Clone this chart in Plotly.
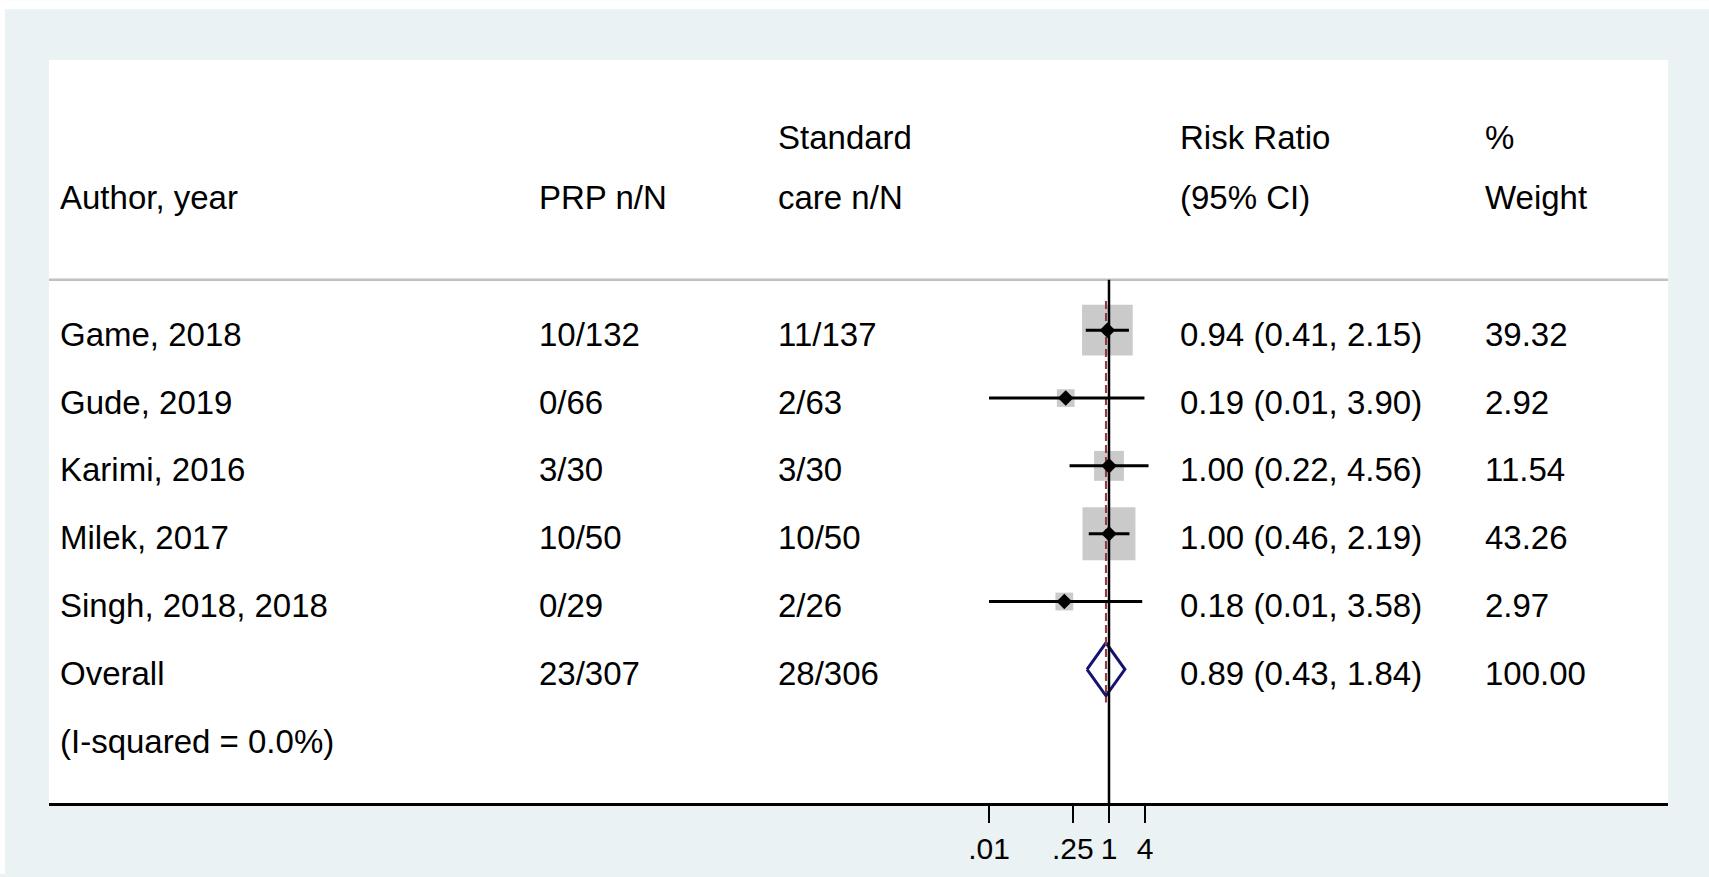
import plotly.graph_objects as go

# ---- study data -------------------------------------------------------
authors = ["Game, 2018", "Gude, 2019", "Karimi, 2016", "Milek, 2017", "Singh, 2018, 2018"]
prp = ["10/132", "0/66", "3/30", "10/50", "0/29"]
std_care = ["11/137", "2/63", "3/30", "10/50", "2/26"]
rr = [0.94, 0.19, 1.00, 1.00, 0.18]
ci_low = [0.41, 0.01, 0.22, 0.46, 0.01]
ci_high = [2.15, 3.90, 4.56, 2.19, 3.58]
weight = [39.32, 2.92, 11.54, 43.26, 2.97]

overall_label = "Overall"
overall_prp = "23/307"
overall_std = "28/306"
overall_rr = 0.89
overall_low = 0.43
overall_high = 1.84
overall_weight = 100.00
heterogeneity = "(I-squared = 0.0%)"

header_top = ["", "", "Standard", "Risk Ratio", "%"]
header_bottom = ["Author, year", "PRP n/N", "care n/N", "(95% CI)", "Weight"]
tick_vals = [0.01, 0.25, 1, 4]
tick_text = [".01", ".25", "1", "4"]

# ---- geometry ---------------------------------------------------------
W, H = 1709, 877
ML, MR, MT, MB = 49, 41, 60, 71
PW = W - ML - MR
PH = H - MT - MB
ROW0_PX, ROW_STEP = 331.3, 68.1      # pixel centre of first study row, row spacing
NULL_PX, DECADE_PX = 1109, 60.0       # pixel of RR=1, pixels per log10 unit

x_range = [(ML - NULL_PX) / DECADE_PX, (W - MR - NULL_PX) / DECADE_PX]
y_range = [(H - MB - ROW0_PX) / ROW_STEP, (MT - ROW0_PX) / ROW_STEP]


def px_x(px):
    return (px - ML) / PW


def px_y(py):
    return (H - MB - py) / PH


col_x = [58, 537, 776, 1178, 1483]
FONT = "Liberation Sans, Arial, sans-serif"
TXT = 33
BOX_GREY = "#b4b4b4"
NAVY = "#14146e"
MAROON = "#93363e"

n = len(authors)
rows = list(range(n))
overall_row = n
het_row = n + 1
header_line_row = (280.7 - ROW0_PX) / ROW_STEP

fig = go.Figure()

# weight boxes
fig.add_trace(go.Scatter(
    x=rr, y=rows, mode="markers",
    marker=dict(symbol="square", color=BOX_GREY,
                size=[7.24 * w ** 0.5 + 5.3 for w in weight], line=dict(width=0)),
    hoverinfo="skip"))

# overall diamond
fig.add_trace(go.Scatter(
    x=[overall_low, overall_rr, overall_high, overall_rr, overall_low],
    y=[overall_row, overall_row - 0.39, overall_row, overall_row + 0.39, overall_row],
    mode="lines", fill="toself", fillcolor="white",
    line=dict(color=NAVY, width=3), hoverinfo="skip"))

# line of no effect
fig.add_trace(go.Scatter(
    x=[1, 1], y=[header_line_row, y_range[0]], mode="lines",
    line=dict(color="black", width=2.5), hoverinfo="skip"))

# overall effect line
fig.add_trace(go.Scatter(
    x=[overall_rr, overall_rr], y=[-0.43, overall_row + 0.49], mode="lines",
    line=dict(color=MAROON, width=2, dash="8px,4px"), hoverinfo="skip"))

# confidence intervals
ci_x, ci_y = [], []
for lo, hi, r in zip(ci_low, ci_high, rows):
    ci_x += [lo, hi, None]
    ci_y += [r, r, None]
fig.add_trace(go.Scatter(
    x=ci_x, y=ci_y, mode="lines",
    line=dict(color="black", width=3), hoverinfo="skip"))

# point estimates
fig.add_trace(go.Scatter(
    x=rr, y=rows, mode="markers",
    marker=dict(symbol="diamond", color="black", size=12, line=dict(width=0)),
    hoverinfo="skip"))

# ---- text columns -----------------------------------------------------
annotations = []


def put(text, col, row, size=TXT):
    annotations.append(dict(
        text=text, x=px_x(col_x[col]), xref="paper", xanchor="left",
        y=row, yref="y", yanchor="middle", yshift=-4,
        showarrow=False, font=dict(family=FONT, size=size, color="black")))


for c, t in enumerate(header_top):
    if t:
        put(t, c, -2.9)
for c, t in enumerate(header_bottom):
    put(t, c, -2.02)

for i in rows:
    put(authors[i], 0, i)
    put(prp[i], 1, i)
    put(std_care[i], 2, i)
    put(f"{rr[i]:.2f} ({ci_low[i]:.2f}, {ci_high[i]:.2f})", 3, i)
    put(f"{weight[i]:.2f}", 4, i)

put(overall_label, 0, overall_row)
put(overall_prp, 1, overall_row)
put(overall_std, 2, overall_row)
put(f"{overall_rr:.2f} ({overall_low:.2f}, {overall_high:.2f})", 3, overall_row)
put(f"{overall_weight:.2f}", 4, overall_row)
put(heterogeneity, 0, het_row)

# ---- frame shapes -----------------------------------------------------
shapes = [
    # header separator
    dict(type="line", xref="paper", yref="y", x0=0, x1=1,
         y0=header_line_row, y1=header_line_row,
         line=dict(color="#c0c0c0", width=2.5), layer="below"),
    # thin white margins at the outer left and top edge
    dict(type="rect", xref="paper", yref="paper",
         x0=px_x(0), x1=px_x(5), y0=px_y(H), y1=px_y(0),
         fillcolor="white", line=dict(width=0), layer="below"),
    dict(type="rect", xref="paper", yref="paper",
         x0=px_x(0), x1=px_x(W), y0=px_y(9), y1=px_y(0),
         fillcolor="white", line=dict(width=0), layer="below"),
]

fig.update_layout(
    width=W, height=H,
    margin=dict(l=ML, r=MR, t=MT, b=MB, pad=0),
    paper_bgcolor="#eaf2f3", plot_bgcolor="white",
    showlegend=False,
    annotations=annotations, shapes=shapes,
    font=dict(family=FONT, color="black"),
    xaxis=dict(type="log", range=x_range, tickvals=tick_vals, ticktext=tick_text,
               ticks="outside", ticklen=17, tickwidth=2, tickcolor="black",
               showline=True, linewidth=3, linecolor="black", mirror=False,
               showgrid=False, zeroline=False,
               tickfont=dict(family=FONT, size=30, color="black")),
    yaxis=dict(range=y_range, visible=False, showgrid=False, zeroline=False),
)

fig.write_html("out.html")
